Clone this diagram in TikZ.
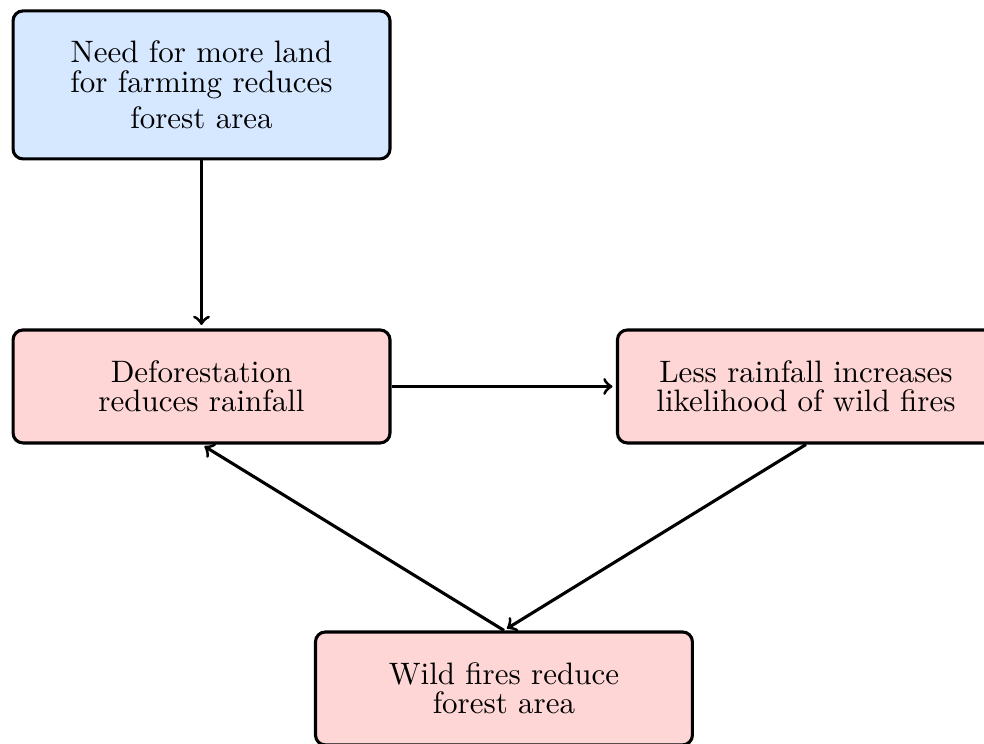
\documentclass[tikz,border=0pt]{standalone}
\definecolor{causeblue}{RGB}{214,232,255}
\definecolor{effectred}{RGB}{255,214,214}

\begin{document}
\begin{tikzpicture}[
  box/.style={draw,line width=1pt,rounded corners=3.2pt,minimum width=4.274cm,minimum height=1.281cm,
    align=center,font=\fontsize{10}{9.5}\selectfont},
  arr/.style={->,line width=1pt,shorten >=1.1pt}
]

\useasboundingbox (0,0) rectangle (11.157,8.435);

\node[box,fill=causeblue,minimum height=1.678cm] (land) at (2.285,7.472)
  {Need for more land\\for farming reduces\\[2.3pt]forest area};

\node[box,fill=effectred] (defor) at (2.285,4.053) {Deforestation\\reduces rainfall};
\node[box,fill=effectred] (rain) at (9.138,4.053) {Less rainfall increases\\likelihood of wild fires};
\node[box,fill=effectred] (fires) at (5.714,0.629) {Wild fires reduce\\forest area};

\draw[arr] (land) -- (defor);
\draw[arr] (defor) -- (rain);
\draw[arr] (rain.south) -- (fires.north);
\draw[arr] (fires.north) -- (defor.south);

\end{tikzpicture}
\end{document}
